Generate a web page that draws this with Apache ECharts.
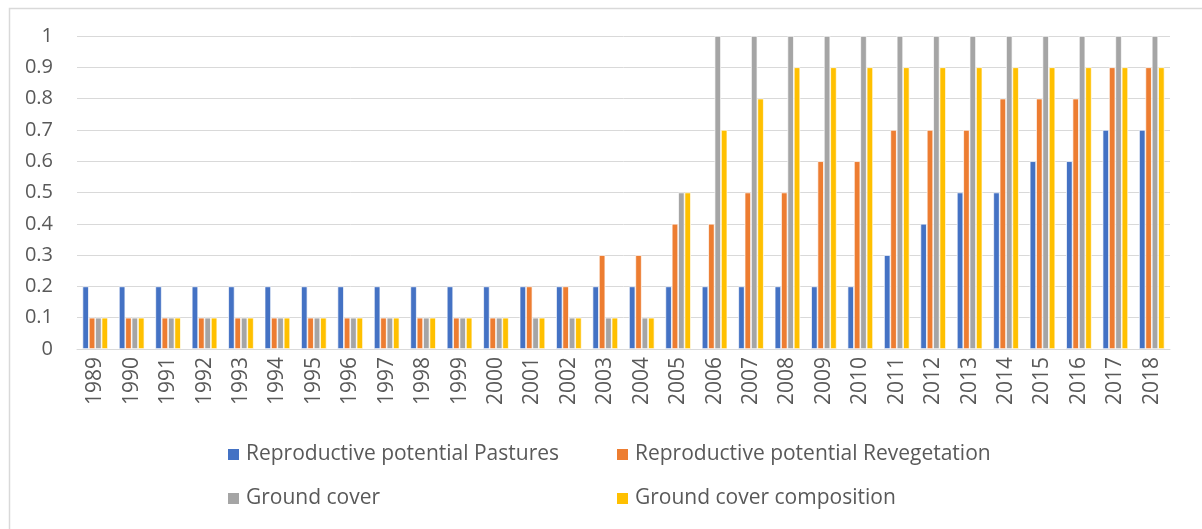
<!DOCTYPE html>
<html>
<head>
<meta charset="utf-8">
<script src="https://cdn.jsdelivr.net/npm/echarts@6/dist/echarts.min.js"></script>
<style>
  html, body { margin: 0; padding: 0; background: #ffffff; }
  #chart { width: 1202px; height: 529px; }
</style>
</head>
<body>
<div id="chart"></div>
<script>
// Years on the category axis
const years = ['1989','1990','1991','1992','1993','1994','1995','1996','1997','1998',
  '1999','2000','2001','2002','2003','2004','2005','2006','2007','2008',
  '2009','2010','2011','2012','2013','2014','2015','2016','2017','2018'];

const seriesNames = [
  'Reproductive potential Pastures',
  'Reproductive potential Revegetation',
  'Ground cover',
  'Ground cover composition'
];

// Indicator scores per year
const pastures = [0.2,0.2,0.2,0.2,0.2,0.2,0.2,0.2,0.2,0.2,
  0.2,0.2,0.2,0.2,0.2,0.2,0.2,0.2,0.2,0.2,
  0.2,0.2,0.3,0.4,0.5,0.5,0.6,0.6,0.7,0.7];
const revegetation = [0.1,0.1,0.1,0.1,0.1,0.1,0.1,0.1,0.1,0.1,
  0.1,0.1,0.2,0.2,0.3,0.3,0.4,0.4,0.5,0.5,
  0.6,0.6,0.7,0.7,0.7,0.8,0.8,0.8,0.9,0.9];
const groundCover = [0.1,0.1,0.1,0.1,0.1,0.1,0.1,0.1,0.1,0.1,
  0.1,0.1,0.1,0.1,0.1,0.1,0.5,1,1,1,
  1,1,1,1,1,1,1,1,1,1];
const groundCoverComposition = [0.1,0.1,0.1,0.1,0.1,0.1,0.1,0.1,0.1,0.1,
  0.1,0.1,0.1,0.1,0.1,0.1,0.5,0.7,0.8,0.9,
  0.9,0.9,0.9,0.9,0.9,0.9,0.9,0.9,0.9,0.9];

const yTicks = ['0','0.1','0.2','0.3','0.4','0.5','0.6','0.7','0.8','0.9','1'];

const palette = ['#4472C4', '#ED7D31', '#A5A5A5', '#FFC000'];
const values = [pastures, revegetation, groundCover, groundCoverComposition];
const FONT = 'Open Sans';
const TEXT = '#595959';

const chart = echarts.init(document.getElementById('chart'), null, { renderer: 'canvas' });

// legend placement: two columns, two rows
const legendPos = [
  { left: 221, top: 439 },
  { left: 610, top: 439 },
  { left: 221, top: 483 },
  { left: 610, top: 483 }
];

chart.setOption({
  animation: false,
  backgroundColor: '#ffffff',
  graphic: [{
    type: 'rect',
    left: 7, top: 6,
    shape: { width: 1260, height: 600 },
    style: { fill: 'none', stroke: '#d9d9d9', lineWidth: 1.5 },
    silent: true
  }],
  grid: { left: 77, right: 32, top: 36, bottom: 180, containLabel: false },
  legend: seriesNames.map((n, i) => ({
    data: [n],
    left: legendPos[i].left,
    top: legendPos[i].top,
    itemWidth: 13, itemHeight: 13,
    icon: 'rect',
    itemGap: 6,
    textStyle: { fontFamily: FONT, fontSize: 21, color: TEXT, padding: [0, 0, 0, 1] },
    selectedMode: false
  })),
  xAxis: {
    type: 'category',
    data: years,
    axisLine: { show: true, lineStyle: { color: '#d9d9d9', width: 1 } },
    axisTick: { show: false },
    axisLabel: {
      rotate: 90,
      interval: 0,
      margin: 8,
      fontFamily: FONT, fontSize: 21, color: TEXT
    }
  },
  yAxis: {
    type: 'value',
    min: 0, max: 1, interval: 0.1,
    axisLine: { show: false },
    axisTick: { show: false },
    splitLine: { lineStyle: { color: '#d9d9d9', width: 1 } },
    axisLabel: {
      margin: 24,
      fontFamily: FONT, fontSize: 20, color: TEXT,
      formatter: (v) => yTicks[Math.round(v * 10)]
    }
  },
  series: seriesNames.map((n, i) => ({
    name: n,
    type: 'bar',
    data: values[i],
    barGap: '0%',
    barCategoryGap: '30%',
    itemStyle: { color: palette[i], borderColor: '#ffffff', borderWidth: 0.7 }
  }))
});
</script>
</body>
</html>
